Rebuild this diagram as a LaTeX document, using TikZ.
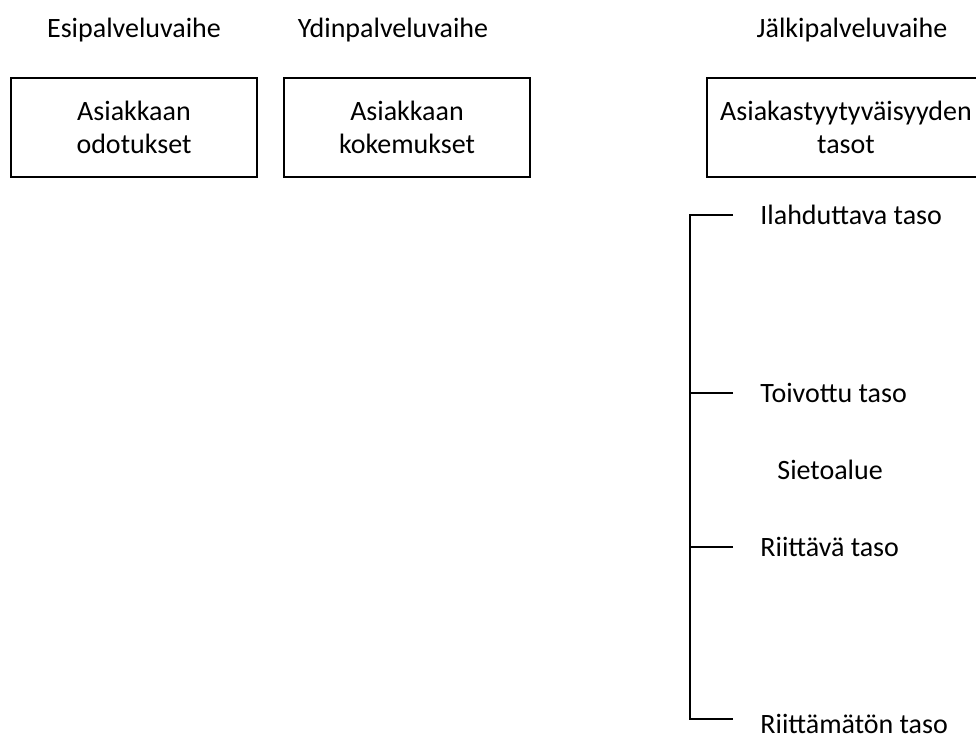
\documentclass[tikz,border=0pt]{standalone}
\usepackage{fontspec}
\setmainfont{Carlito}
\usetikzlibrary{positioning}

\begin{document}
\begin{tikzpicture}[x=0.5pt, y=-0.5pt,
          phase/.style={font=\fontsize{14}{16.5}\selectfont, inner sep=0pt},
          box/.style={rectangle, draw=black, line width=1pt,
              minimum width=123pt, minimum height=49.5pt,
              font=\fontsize{14}{16.5}\selectfont, align=center},
          level/.style={anchor=west, inner sep=0pt, font=\fontsize{14}{16.5}\selectfont},
          tick/.style={line width=0.8pt, black}
        ]
        \useasboundingbox (0,0) rectangle (976,738);
        \clip (0,0) rectangle (976,738);
        % phases
        \node[phase] (pre)  at (134,30) {Esipalveluvaihe};
        \node[phase] (core) at (393,30) {Ydinpalveluvaihe};
        \node[phase] (post) at (852,30) {Jälkipalveluvaihe};
        % boxes
        \node[box] (expect) at (134,127.5) {Asiakkaan\\odotukset};
        \node[box] (exper)  at (407,127.5) {Asiakkaan\\kokemukset};
        \node[box, minimum width=139pt] (sat) at (846,127.5) {Asiakastyytyväisyyden\\tasot};
        % levels
        \coordinate (t1) at (733,215);
        \coordinate (t2) at (733,393);
        \coordinate (t3) at (733,547);
        \coordinate (t4) at (733,719);
        \node[level] (delight) at (760,215) {Ilahduttava taso};
        \node[level] (desired) at (760,393) {Toivottu taso};
        \node[level] (zone)    at (777,470) {Sietoalue};
        \node[level] (adequ)   at (760,547) {Riittävä taso};
        \node[level] (inadeq)  at (760,724) {Riittämätön taso};
        \draw[tick] (t1) -- (690,215) -- (690,719) -- (t4);
        \draw[tick] (t2) -- (690,393);
        \draw[tick] (t3) -- (690,547);
      \end{tikzpicture}
\end{document}
